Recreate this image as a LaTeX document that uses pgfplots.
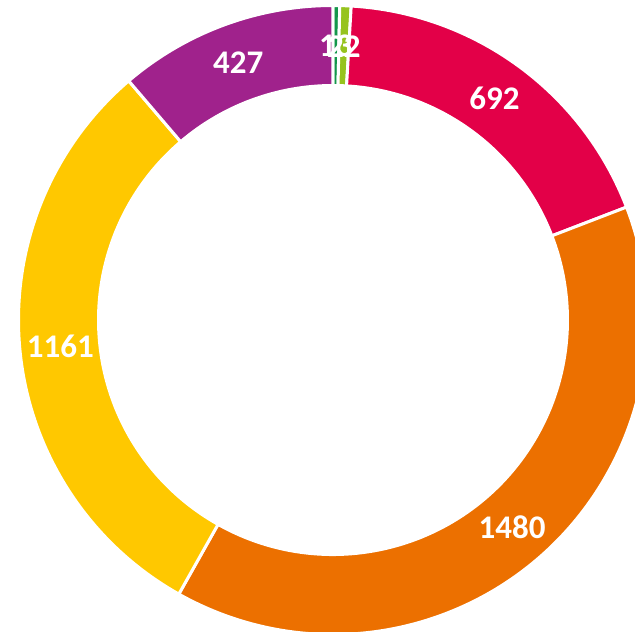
\documentclass[border=0pt]{standalone}
\usepackage{pgfplots}
\pgfplotsset{compat=1.18}
\usepackage{pgfplotstable}
\usepackage{fontspec}
\setmainfont{Carlito}
\definecolor{cdgreen}{RGB}{20,150,75}
\definecolor{clgreen}{RGB}{150,195,30}
\definecolor{cred}{RGB}{227,0,72}
\definecolor{corange}{RGB}{236,112,0}
\definecolor{cyellow}{RGB}{255,200,0}
\definecolor{cpurple}{RGB}{160,34,140}
\pgfplotstableread{
value color
13 cdgreen
22 clgreen
692 cred
1480 corange
1161 cyellow
427 cpurple
}\donut
\def\Ro{314.5}\def\Ri{234.5}\def\Rl{274}
\newcommand\seg[3]{%
 \fill[#3, draw=white, line width=3pt]
 ([shift={(#1:\Ro pt)}]axis cs:0,0) arc[start angle=#1, end angle=#2, radius=\Ro pt]
 -- ([shift={(#2:\Ri pt)}]axis cs:0,0) arc[start angle=#2, end angle=#1, radius=\Ri pt] -- cycle;}
\tikzset{lbl/.style={text=white, font=\bfseries\fontsize{33}{39}\selectfont, inner sep=0pt}}
\begin{document}
\begin{tikzpicture}
\pgfplotstablegetrowsof{\donut}
\pgfmathtruncatemacro\N{\pgfplotsretval-1}
\def\T{0}
\pgfplotsforeachungrouped \i in {0,...,\N}{%
  \pgfplotstablegetelem{\i}{value}\of\donut
  \pgfmathsetmacro\T{\T+\pgfplotsretval}}
\begin{axis}[
  x=1pt, y=1pt, disabledatascaling,
  xmin=-333, xmax=302, ymin=-312, ymax=320,
  hide axis, clip=true, clip mode=global]
\def\cum{0}
\pgfplotsforeachungrouped \i in {0,...,\N}{%
  \pgfplotstablegetelem{\i}{value}\of\donut \let\v\pgfplotsretval
  \pgfplotstablegetelem{\i}{color}\of\donut \let\c\pgfplotsretval
  \pgfmathsetmacro\aA{90-360*(\cum/\T)}
  \pgfmathsetmacro\cum{\cum+\v}
  \pgfmathsetmacro\aB{90-360*(\cum/\T)}
  \edef\temp{\noexpand\seg{\aA}{\aB}{\c}}\temp
}
\def\cum{0}
\pgfplotsforeachungrouped \i in {0,...,\N}{%
  \pgfplotstablegetelem{\i}{value}\of\donut \let\v\pgfplotsretval
  \pgfmathsetmacro\aA{90-360*(\cum/\T)}
  \pgfmathsetmacro\cum{\cum+\v}
  \pgfmathsetmacro\aB{90-360*(\cum/\T)}
  \pgfmathsetmacro\am{(\aA+\aB)/2}
  \edef\temp{\noexpand\node[lbl] at ([shift={(\am:\Rl pt)}]axis cs:0,0) {\v};}\temp
}
\end{axis}
\pgfresetboundingbox
\path (current axis.south west) rectangle (current axis.north east);
\end{tikzpicture}
\end{document}
